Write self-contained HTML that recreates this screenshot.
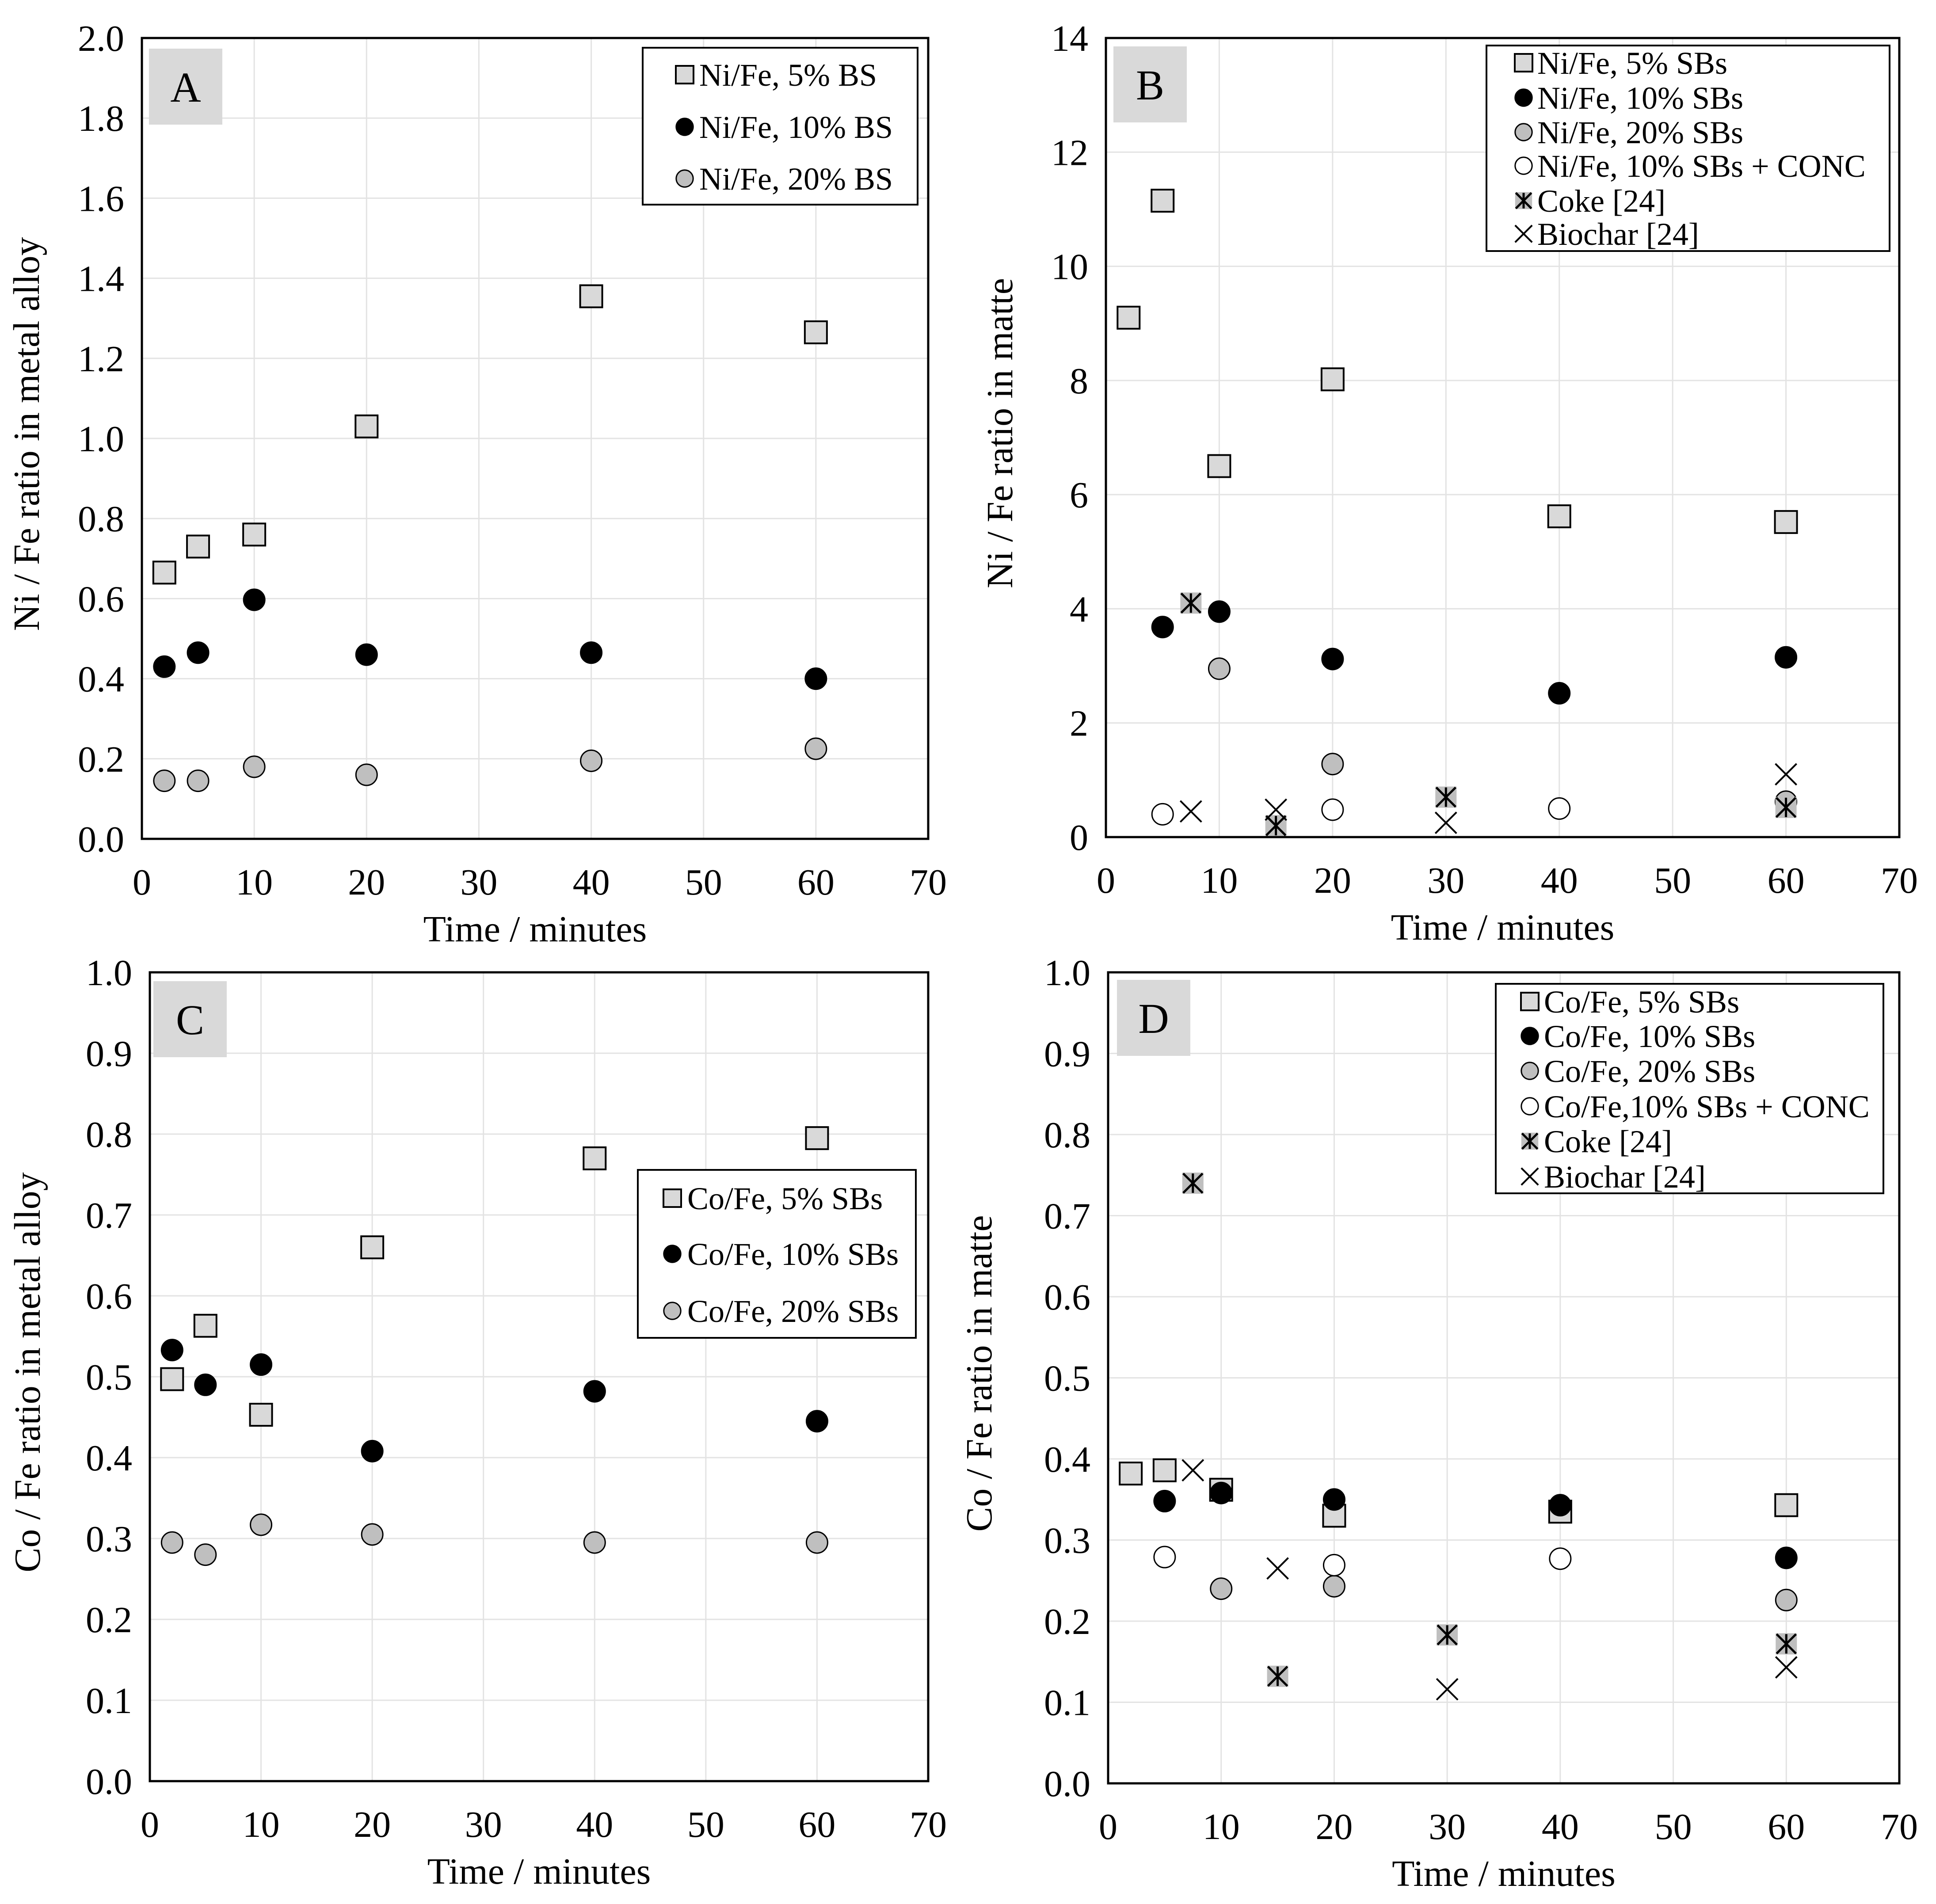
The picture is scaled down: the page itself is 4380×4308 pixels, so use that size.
<!DOCTYPE html>
<html><head><meta charset="utf-8">
<style>
html,body{margin:0;padding:0;background:#fff;}
svg{display:block;}
svg text{font-family:"Liberation Serif","Times New Roman","DejaVu Serif",serif;}
</style></head>
<body>
<svg id="fig" width="4380" height="4308" viewBox="0 0 4380 4308" xmlns="http://www.w3.org/2000/svg"></svg>
<script>
// ---- data ----
const xTicks = [0,10,20,30,40,50,60,70];
const aYTicks = [0,0.2,0.4,0.6,0.8,1.0,1.2,1.4,1.6,1.8,2.0];
const bYTicks = [0,2,4,6,8,10,12,14];
const cdYTicks = [0,0.1,0.2,0.3,0.4,0.5,0.6,0.7,0.8,0.9,1.0];

const tAll = [2,5,10,20,40,60];
const tFive = [5,10,20,40,60];
const tThree = [10,20,60];
const tConc = [5,20,40];
const tRef = [7.5,15,30,60];

const aNi5 = [0.665,0.73,0.76,1.03,1.355,1.265];
const aNi10 = [0.43,0.465,0.597,0.46,0.465,0.40];
const aNi20 = [0.145,0.145,0.18,0.16,0.195,0.225];

const bNi5 = [9.1,11.15,6.5,8.02,5.62,5.52];
const bNi10 = [3.68,3.95,3.12,2.52,3.15];
const bNi20 = [2.95,1.28,0.62];
const bConc = [0.4,0.48,0.5];
const bCoke = [4.1,0.2,0.7,0.52];
const bBiochar = [0.45,0.48,0.25,1.1];

const cCo5 = [0.497,0.563,0.453,0.66,0.77,0.795];
const cCo10 = [0.533,0.49,0.515,0.408,0.482,0.445];
const cCo20 = [0.295,0.28,0.317,0.305,0.295,0.295];

const dCo5 = [0.382,0.386,0.362,0.33,0.335,0.343];
const dCo10 = [0.348,0.358,0.35,0.343,0.278];
const dCo20 = [0.24,0.243,0.226];
const dConc = [0.279,0.269,0.277];
const dCoke = [0.74,0.132,0.183,0.172];
const dBiochar = [0.386,0.265,0.116,0.143];

const NS = "http://www.w3.org/2000/svg";
const FONT = '"Liberation Serif","Times New Roman","DejaVu Serif",serif';
const svg = document.getElementById('fig');
function mk(tag, attrs, parent){
  const e = document.createElementNS(NS, tag);
  for (const k in attrs) e.setAttribute(k, attrs[k]);
  if (tag==='text') e.setAttribute('font-family', FONT);
  (parent||svg).appendChild(e);
  return e;
}
function marker(g, type, cx, cy, s){
  s = s||1;
  if(type==='sq'){ mk('rect',{x:cx-25*s,y:cy-25*s,width:50*s,height:50*s,fill:'#d9d9d9',stroke:'#000','stroke-width':4},g); }
  else if(type==='blk'){ mk('circle',{cx:cx,cy:cy,r:24*s,fill:'#000',stroke:'#000','stroke-width':3},g); }
  else if(type==='gry'){ mk('circle',{cx:cx,cy:cy,r:24*s,fill:'#bfbfbf',stroke:'#000','stroke-width':3},g); }
  else if(type==='wht'){ mk('circle',{cx:cx,cy:cy,r:24*s,fill:'#fff',stroke:'#000','stroke-width':3},g); }
  else if(type==='coke'){
    mk('rect',{x:cx-24*s,y:cy-24*s,width:48*s,height:48*s,fill:'#bfbfbf'},g);
    const r=22*s;
    mk('path',{d:`M${cx-r} ${cy-r}L${cx+r} ${cy+r}M${cx+r} ${cy-r}L${cx-r} ${cy+r}M${cx} ${cy-r}L${cx} ${cy+r}`,stroke:'#000','stroke-width':5,fill:'none'},g);
  }
  else if(type==='x'){
    const r=24*s;
    mk('path',{d:`M${cx-r} ${cy-r}L${cx+r} ${cy+r}M${cx+r} ${cy-r}L${cx-r} ${cy+r}`,stroke:'#000','stroke-width':4,fill:'none'},g);
  }
}
function panel(p){
  const g = mk('g',{});
  
  
  const xs = v => p.L + (v-0)/(70)*(p.R-p.L);
  const ys = v => p.B - (v-p.ymin)/(p.ymax-p.ymin)*(p.B-p.T);
  xTicks.forEach(t=>{ if(t>0&&t<70){ const l=mk('line',{x1:xs(t),x2:xs(t),y1:p.T,y2:p.B,stroke:'#e3e3e3','stroke-width':3},g);
      }});
  p.yt.forEach(t=>{ if(t>p.ymin&&t<p.ymax){ const l=mk('line',{x1:p.L,x2:p.R,y1:ys(t),y2:ys(t),stroke:'#e3e3e3','stroke-width':3},g);
      }});
  xTicks.forEach(t=>{ const e=mk('text',{x:xs(t),y:p.B+126,'font-size':84,'text-anchor':'middle'},g); e.textContent=t;
      });
  p.yt.forEach(t=>{ const e=mk('text',{x:p.L-40,y:ys(t)+29,'font-size':84,'text-anchor':'end'},g); e.textContent=p.fmt(t);
      });
  const xt=mk('text',{x:(p.L+p.R)/2,y:p.B+232,'font-size':84,'text-anchor':'middle'},g); xt.textContent='Time / minutes';
   
  const yc=(p.T+p.B)/2-10;
  const yt=mk('text',{x:p.ytx,y:yc,'font-size':84,'text-anchor':'middle',transform:`rotate(-90 ${p.ytx} ${yc})`},g); yt.textContent=p.ytitle;
   
  const lb=mk('rect',{x:p.lab[0],y:p.lab[1],width:166,height:172,fill:'#d9d9d9'},g);
   
  const lt=mk('text',{x:p.lab[0]+83,y:p.lab[1]+120,'font-size':96,'text-anchor':'middle'},g); lt.textContent=p.id;
   
  p.series.forEach(s=>{
    const sg=mk('g',{},g);
    
    
    s.x.forEach((xv,i)=>{ marker(sg,s.type,xs(xv),ys(s.y[i])); });
  });
  const fr=mk('rect',{x:p.L,y:p.T,width:p.R-p.L,height:p.B-p.T,fill:'none',stroke:'#000','stroke-width':5},g);
   
  const lg=mk('g',{},g);
  
  
  mk('rect',{x:p.leg.x,y:p.leg.y,width:p.leg.w,height:p.leg.h,fill:'#fff',stroke:'#000','stroke-width':4},lg);
  p.series.forEach((s,i)=>{
    const cy=p.leg.rows[i];
    marker(lg,s.type,p.leg.mx,cy,0.8);
    const e=mk('text',{x:p.leg.tx,y:cy+25,'font-size':72},lg); e.textContent=s.label;
     
  });
}
const f1=v=>v.toFixed(1), f0=v=>String(v);
panel({id:'A',L:321,R:2100,T:86,B:1898,ymin:0,ymax:2,yt:aYTicks,fmt:f1,ytx:88,ytitle:'Ni / Fe ratio in metal alloy',lab:[337,110],
  leg:{x:1454,y:108,w:622,h:355,mx:1549,tx:1582,rows:[169,287,404]},
  series:[{name:'ni-fe-5-bs',type:'sq',x:tAll,y:aNi5,label:'Ni/Fe, 5% BS'},
          {name:'ni-fe-10-bs',type:'blk',x:tAll,y:aNi10,label:'Ni/Fe, 10% BS'},
          {name:'ni-fe-20-bs',type:'gry',x:tAll,y:aNi20,label:'Ni/Fe, 20% BS'}]});
panel({id:'B',L:2502,R:4297,T:86,B:1894,ymin:0,ymax:14,yt:bYTicks,fmt:f0,ytx:2290,ytitle:'Ni / Fe ratio in matte',lab:[2519,105],
  leg:{x:3363,y:103,w:912,h:465,mx:3447,tx:3478,rows:[142,221,299,375,454,529]},
  series:[{name:'ni-fe-5-sbs',type:'sq',x:tAll,y:bNi5,label:'Ni/Fe, 5% SBs'},
          {name:'ni-fe-10-sbs',type:'blk',x:tFive,y:bNi10,label:'Ni/Fe, 10% SBs'},
          {name:'ni-fe-20-sbs',type:'gry',x:tThree,y:bNi20,label:'Ni/Fe, 20% SBs'},
          {name:'ni-fe-10-sbs-conc',type:'wht',x:tConc,y:bConc,label:'Ni/Fe, 10% SBs + CONC'},
          {name:'coke',type:'coke',x:tRef,y:bCoke,label:'Coke [24]'},
          {name:'biochar',type:'x',x:tRef,y:bBiochar,label:'Biochar [24]'}]});
panel({id:'C',L:339,R:2100,T:2200,B:4030,ymin:0,ymax:1,yt:cdYTicks,fmt:f1,ytx:90,ytitle:'Co / Fe ratio in metal alloy',lab:[347,2220],
  leg:{x:1443,y:2647,w:629,h:380,mx:1521,tx:1555,rows:[2711,2837,2966]},
  series:[{name:'co-fe-5-sbs',type:'sq',x:tAll,y:cCo5,label:'Co/Fe, 5% SBs'},
          {name:'co-fe-10-sbs',type:'blk',x:tAll,y:cCo10,label:'Co/Fe, 10% SBs'},
          {name:'co-fe-20-sbs',type:'gry',x:tAll,y:cCo20,label:'Co/Fe, 20% SBs'}]});
panel({id:'D',L:2507,R:4297,T:2200,B:4035,ymin:0,ymax:1,yt:cdYTicks,fmt:f1,ytx:2243,ytitle:'Co / Fe ratio in matte',lab:[2527,2217],
  leg:{x:3384,y:2226,w:877,h:474,mx:3461,tx:3493,rows:[2266,2344,2423,2503,2582,2662]},
  series:[{name:'co-fe-5-sbs',type:'sq',x:tAll,y:dCo5,label:'Co/Fe, 5% SBs'},
          {name:'co-fe-10-sbs',type:'blk',x:tFive,y:dCo10,label:'Co/Fe, 10% SBs'},
          {name:'co-fe-20-sbs',type:'gry',x:tThree,y:dCo20,label:'Co/Fe, 20% SBs'},
          {name:'co-fe-10-sbs-conc',type:'wht',x:tConc,y:dConc,label:'Co/Fe,10% SBs + CONC'},
          {name:'coke',type:'coke',x:tRef,y:dCoke,label:'Coke [24]'},
          {name:'biochar',type:'x',x:tRef,y:dBiochar,label:'Biochar [24]'}]});
</script>
</body></html>
